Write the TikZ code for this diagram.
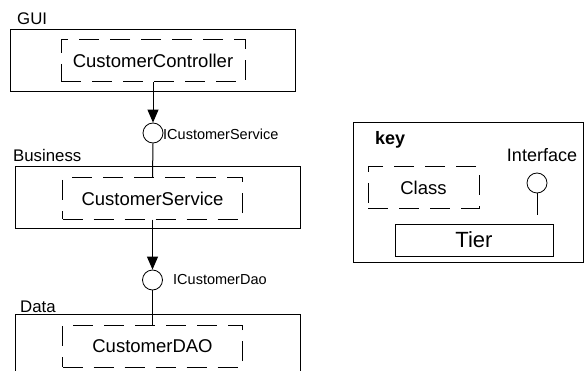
\documentclass[tikz,border=0pt]{standalone}
\usepackage{fontspec}
\setmainfont{Liberation Sans}
\usetikzlibrary{arrows.meta}

\tikzset{
  tier/.style={draw, line width=1pt, inner sep=0pt},
  classbox/.style={draw, line width=1pt, dash pattern=on 20pt off 11pt, inner sep=0pt,
    font=\fontsize{18.5}{22}\selectfont},
  iface/.style={circle, draw, line width=0.8pt, minimum size=20pt, inner sep=0pt},
  ifacelabel/.style={anchor=west, inner sep=0pt, font=\fontsize{14.5}{17}\selectfont},
  tierlabel/.style={anchor=base west, inner sep=0pt, font=\fontsize{16.8}{20}\selectfont},
  uses/.style={line width=1pt, -{Triangle[length=13pt,width=11pt]}},
  provides/.style={line width=1pt},
}

\begin{document}
\begin{tikzpicture}[x=1pt, y=-1pt]
    \useasboundingbox (0,0) rectangle (585,371);
    \clip (0,0) rectangle (585,371);

    % tiers
    \node[tier, minimum width=285pt, minimum height=62pt] (gui) at (152.5,61) {};
    \node[tierlabel] (guilabel) at (17,25) {GUI};
    \node[tier, minimum width=285pt, minimum height=61pt] (business) at (157.5,197.5) {};
    \node[tierlabel] (businesslabel) at (13,162) {Business};
    \node[tier, minimum width=285pt, minimum height=80pt] (data) at (157.5,354) {};
    \node[tierlabel] (datalabel) at (20,312) {Data};

    % classes
    \node[classbox, minimum width=184pt, minimum height=42pt] (controller) at (153,61) {CustomerController};
    \node[classbox, minimum width=180pt, minimum height=41pt] (service) at (152.5,198.5) {CustomerService};
    \node[classbox, minimum width=180pt, minimum height=42pt] (dao) at (152.5,346) {CustomerDAO};

    % interfaces
    \node[iface] (iservice) at (153,133) {};
    \node[ifacelabel] (iservicelabel) at (163,134) {ICustomerService};
    \node[iface] (idao) at (152.5,280) {};
    \node[ifacelabel] (idaolabel) at (173,280) {ICustomerDao};

    \draw[uses] (controller.south) -- (iservice.north);
    \draw[provides] (iservice.south) -- (service.north);
    \draw[uses] (service.south) -- (idao.north);
    \draw[provides] (idao.south) -- (dao.north);

    % key
    \node[tier, minimum width=230pt, minimum height=139pt] (key) at (468,192.5) {};
    \node[anchor=base west, inner sep=0pt, font=\fontsize{18}{21}\selectfont\bfseries] (keylabel) at (375,145) {key};
    \node[classbox, minimum width=111pt, minimum height=41pt] (keyclass) at (423.5,187.5) {Class};
    \node[anchor=base, inner sep=0pt, font=\fontsize{18}{21}\selectfont] (keyifacelabel) at (542,162) {Interface};
    \node[iface] (keyiface) at (537,183) {};
    \coordinate (keystem) at (537,215);
    \draw[provides] (keyiface.south) -- (keystem);
    \node[tier, minimum width=158pt, minimum height=32pt, font=\fontsize{22}{26}\selectfont] (keytier) at (474,240) {Tier};
\end{tikzpicture}
\end{document}
